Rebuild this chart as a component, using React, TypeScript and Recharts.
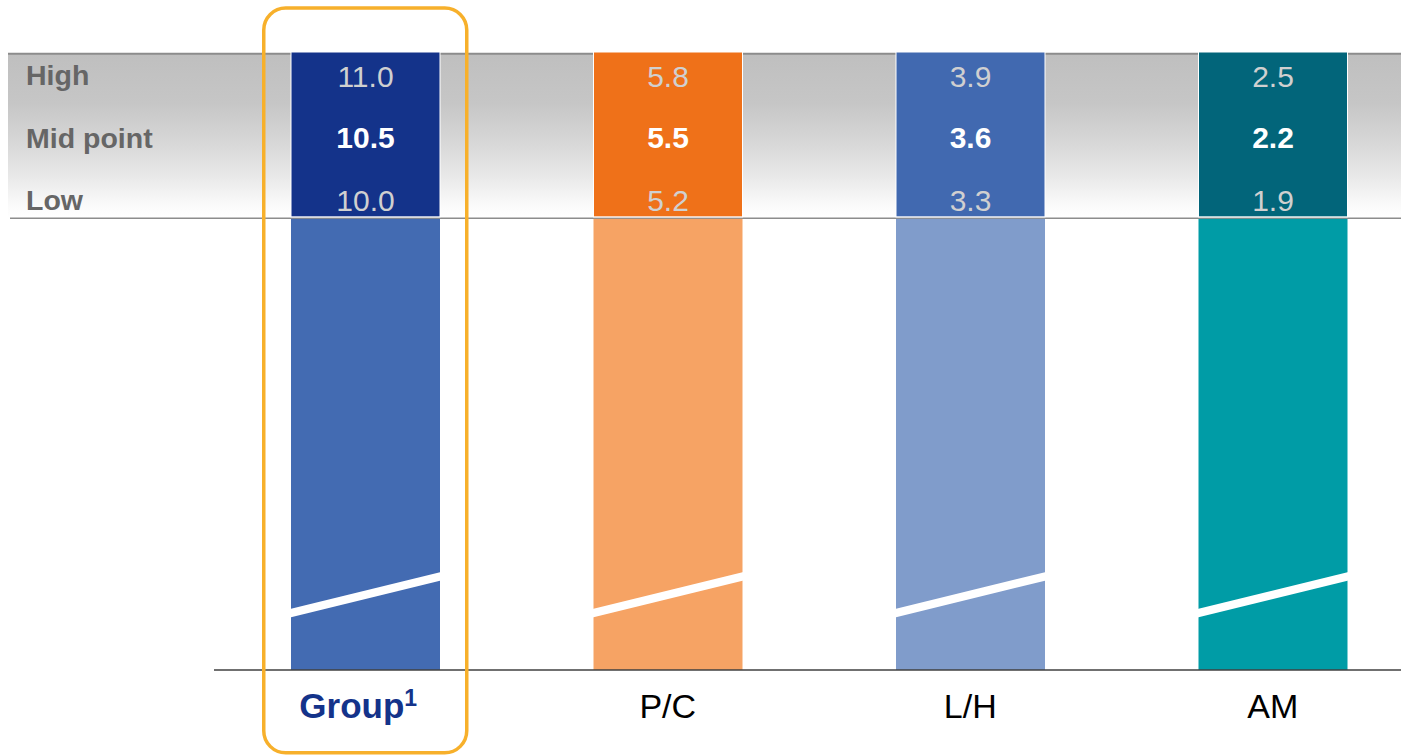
import { Bar, BarChart, LabelList, ReferenceArea, XAxis, YAxis } from "recharts";

const categories = ["Group", "P/C", "L/H", "AM"];
const highValues = [11.0, 5.8, 3.9, 2.5];
const midValues = [10.5, 5.5, 3.6, 2.2];
const lowValues = [10.0, 5.2, 3.3, 1.9];
const rowLabels = ["High", "Mid point", "Low"];
// column heights in display units: broken body below, range box on top
const bodyHeights = [73, 73, 73, 73];
const boxHeights = [27, 27, 27, 27];

const BOX_COLORS = ["#14338A", "#EF7119", "#4169B0", "#02657A"];
const BAR_COLORS = ["#436BB2", "#F6A364", "#809CCB", "#009CA6"];
const FONT = "'Liberation Sans', Arial, sans-serif";

// row label positions and band limits on the display scale
const ROW_TICKS = [96.3, 86.1, 76.1];
const BAND = [73.1, 99.7];
const HIGHLIGHT = [-13.4, 107.1];

const data = categories.map((name, i) => ({
  name,
  body: bodyHeights[i],
  box: boxHeights[i],
  high: highValues[i],
  mid: midValues[i],
  low: lowValues[i],
}));

function BrokenBar(props: any) {
  const { x, y, width, height, index } = props;
  const base = y + height;
  return (
    <g>
      <rect x={x} y={y} width={width} height={height} fill={BAR_COLORS[index]} />
      <polygon
        points={`${x - 1},${base - 61} ${x + width + 1},${base - 98} ${x + width + 1},${base - 89.5} ${x - 1},${base - 52.5}`}
        fill="#fff"
      />
    </g>
  );
}

function RangeBox(props: any) {
  const { x, y, width, height, index } = props;
  return (
    <rect
      x={x}
      y={y}
      width={width}
      height={height - 2}
      fill={BOX_COLORS[index]}
      stroke="#fff"
      strokeWidth={1}
    />
  );
}

function RangeLabels(props: any) {
  const { x, y, width, index } = props;
  const cx = x + width / 2;
  const d = data[index];
  return (
    <g fontFamily={FONT} fontSize={30} textAnchor="middle">
      <text x={cx} y={y + 34.5} fill="#D0D0D0">{d.high.toFixed(1)}</text>
      <text x={cx} y={y + 96} fill="#fff" fontWeight="bold">{d.mid.toFixed(1)}</text>
      <text x={cx} y={y + 158.5} fill="#D0D0D0">{d.low.toFixed(1)}</text>
    </g>
  );
}

function RowTick(props: any) {
  const { y, index } = props;
  return (
    <text x={26} y={y + 10} fontFamily={FONT} fontSize={28.5} fontWeight="bold" fill="#666666">
      {rowLabels[index]}
    </text>
  );
}

function CategoryTick(props: any) {
  const { x, payload } = props;
  if (payload.value === "Group") {
    return (
      <text x={x - 7} y={718} textAnchor="middle" fontFamily={FONT} fontSize={35} fontWeight="bold" fill="#14338A">
        Group
        <tspan fontSize={23} dy={-12}>1</tspan>
      </text>
    );
  }
  return (
    <text x={x} y={718} textAnchor="middle" fontFamily={FONT} fontSize={34} fill="#000">
      {payload.value}
    </text>
  );
}

function BandShape(props: any) {
  const { x, y, width, height } = props;
  const left = 8;
  const right = x + width;
  return (
    <g>
      <rect x={left} y={y} width={right - left} height={height} fill="url(#bandFade)" />
      <line x1={left} x2={right} y1={y} y2={y} stroke="#8C8C8C" strokeWidth={2} />
      <line x1={left + 2} x2={right} y1={y + height} y2={y + height} stroke="#8C8C8C" strokeWidth={1.5} />
    </g>
  );
}

function HighlightShape(props: any) {
  const { x, y, width, height } = props;
  const cx = x + width / 2;
  return (
    <rect
      x={cx - 101.5}
      y={y}
      width={203}
      height={height}
      rx={22}
      fill="none"
      stroke="#F7B02B"
      strokeWidth={3.5}
    />
  );
}

export default function App() {
  return (
    <div
      style={{
        position: "absolute",
        left: 0,
        top: 0,
        width: 1401,
        height: 756,
        overflow: "hidden",
        background: "#fff",
      }}
    >
      <BarChart
        width={1424}
        height={756}
        data={data}
        margin={{ top: 52, right: 0, bottom: 0, left: 8 }}
      >
        <defs>
          <linearGradient id="bandFade" x1="0" y1="0" x2="0" y2="1">
            <stop offset="0%" stopColor="#BFBFBF" />
            <stop offset="30%" stopColor="#C6C6C6" />
            <stop offset="55%" stopColor="#D8D8D8" />
            <stop offset="75%" stopColor="#E9E9E9" />
            <stop offset="92%" stopColor="#FAFAFA" />
            <stop offset="100%" stopColor="#FFFFFF" />
          </linearGradient>
        </defs>
        <ReferenceArea y1={BAND[0]} y2={BAND[1]} ifOverflow="visible" shape={BandShape} zIndex={-10} />
        <XAxis
          dataKey="name"
          height={86}
          interval={0}
          tickLine={false}
          axisLine={{ stroke: "#404040", strokeWidth: 1.5 }}
          tick={CategoryTick}
        />
        <YAxis
          width={206}
          domain={[0, 100]}
          ticks={ROW_TICKS}
          interval={0}
          axisLine={false}
          tickLine={false}
          tick={RowTick}
        />
        <Bar dataKey="body" stackId="col" barSize={149} shape={BrokenBar} isAnimationActive={false} />
        <Bar dataKey="box" stackId="col" barSize={149} shape={RangeBox} isAnimationActive={false}>
          <LabelList dataKey="mid" content={RangeLabels} />
        </Bar>
        <ReferenceArea
          x1="Group"
          x2="Group"
          y1={HIGHLIGHT[0]}
          y2={HIGHLIGHT[1]}
          ifOverflow="visible"
          shape={HighlightShape}
          zIndex={1500}
        />
      </BarChart>
    </div>
  );
}
